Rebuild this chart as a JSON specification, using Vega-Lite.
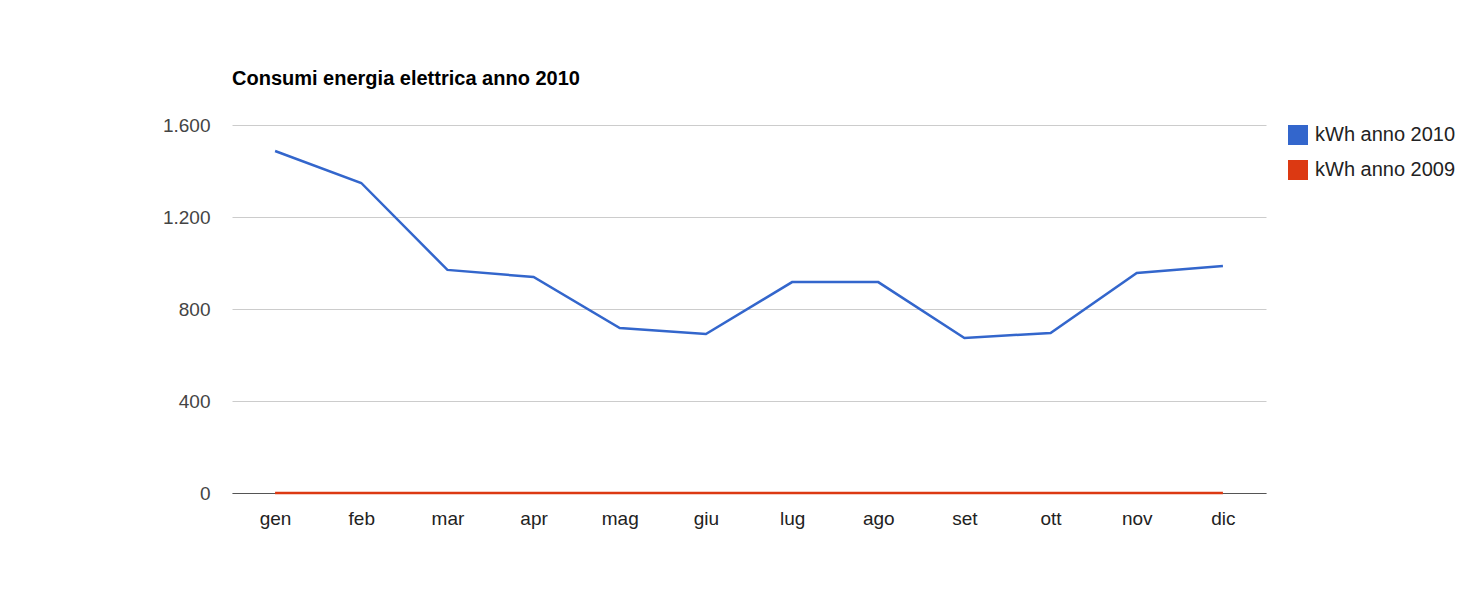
{
  "$schema": "https://vega.github.io/schema/vega-lite/v6.json",
  "autosize": "none",
  "width": 1034,
  "height": 368,
  "padding": {"left": 232, "top": 125, "right": 217, "bottom": 117},
  "background": "white",
  "title": {
    "text": "Consumi energia elettrica anno 2010",
    "anchor": "start",
    "frame": "group",
    "font": "Liberation Sans",
    "fontSize": 20,
    "fontWeight": "bold",
    "color": "#000000",
    "offset": 27
  },
  "data": {
    "values": [
      {"mese": "gen", "serie": "kWh anno 2010", "kwh": 1487},
      {"mese": "feb", "serie": "kWh anno 2010", "kwh": 1348},
      {"mese": "mar", "serie": "kWh anno 2010", "kwh": 970},
      {"mese": "apr", "serie": "kWh anno 2010", "kwh": 939},
      {"mese": "mag", "serie": "kWh anno 2010", "kwh": 717},
      {"mese": "giu", "serie": "kWh anno 2010", "kwh": 691},
      {"mese": "lug", "serie": "kWh anno 2010", "kwh": 917},
      {"mese": "ago", "serie": "kWh anno 2010", "kwh": 917},
      {"mese": "set", "serie": "kWh anno 2010", "kwh": 674},
      {"mese": "ott", "serie": "kWh anno 2010", "kwh": 696},
      {"mese": "nov", "serie": "kWh anno 2010", "kwh": 957},
      {"mese": "dic", "serie": "kWh anno 2010", "kwh": 987},
      {"mese": "gen", "serie": "kWh anno 2009", "kwh": 0},
      {"mese": "feb", "serie": "kWh anno 2009", "kwh": 0},
      {"mese": "mar", "serie": "kWh anno 2009", "kwh": 0},
      {"mese": "apr", "serie": "kWh anno 2009", "kwh": 0},
      {"mese": "mag", "serie": "kWh anno 2009", "kwh": 0},
      {"mese": "giu", "serie": "kWh anno 2009", "kwh": 0},
      {"mese": "lug", "serie": "kWh anno 2009", "kwh": 0},
      {"mese": "ago", "serie": "kWh anno 2009", "kwh": 0},
      {"mese": "set", "serie": "kWh anno 2009", "kwh": 0},
      {"mese": "ott", "serie": "kWh anno 2009", "kwh": 0},
      {"mese": "nov", "serie": "kWh anno 2009", "kwh": 0},
      {"mese": "dic", "serie": "kWh anno 2009", "kwh": 0}
    ]
  },
  "mark": {"type": "line", "strokeWidth": 2.5},
  "encoding": {
    "x": {
      "field": "mese",
      "type": "ordinal",
      "sort": ["gen","feb","mar","apr","mag","giu","lug","ago","set","ott","nov","dic"],
      "scale": {"type": "point", "padding": 0.5},
      "axis": {
        "title": null,
        "labelAngle": 0,
        "ticks": false,
        "domain": true,
        "domainColor": "#555555",
        "domainWidth": 1,
        "labelFont": "Liberation Sans",
        "labelFontSize": 19,
        "labelColor": "#222222",
        "labelPadding": 16,
        "grid": false
      }
    },
    "y": {
      "field": "kwh",
      "type": "quantitative",
      "scale": {"domain": [0, 1600], "nice": false},
      "axis": {
        "title": null,
        "values": [0, 400, 800, 1200, 1600],
        "labelExpr": "replace(format(datum.value, ','), ',', '.')",
        "ticks": false,
        "domain": false,
        "grid": true,
        "gridColor": "#cccccc",
        "gridWidth": 1,
        "labelFont": "Liberation Sans",
        "labelFontSize": 19,
        "labelColor": "#444444",
        "labelPadding": 22
      }
    },
    "color": {
      "field": "serie",
      "type": "nominal",
      "sort": ["kWh anno 2010", "kWh anno 2009"],
      "scale": {"domain": ["kWh anno 2010", "kWh anno 2009"], "range": ["#3366cc", "#dc3912"]},
      "legend": {
        "title": null,
        "orient": "right",
        "offset": 22,
        "symbolType": "square",
        "symbolSize": 400,
        "symbolStrokeWidth": 0,
        "symbolOpacity": 1,
        "labelFont": "Liberation Sans",
        "labelFontSize": 20,
        "labelColor": "#222222",
        "rowPadding": 15,
        "labelOffset": 7,
        "encode": {
          "symbols": {
            "update": {
              "fill": {"scale": "color", "field": "value"},
              "fillOpacity": {"value": 1},
              "strokeWidth": {"value": 0}
            }
          }
        }
      }
    }
  },
  "config": {
    "view": {"stroke": null}
  }
}
